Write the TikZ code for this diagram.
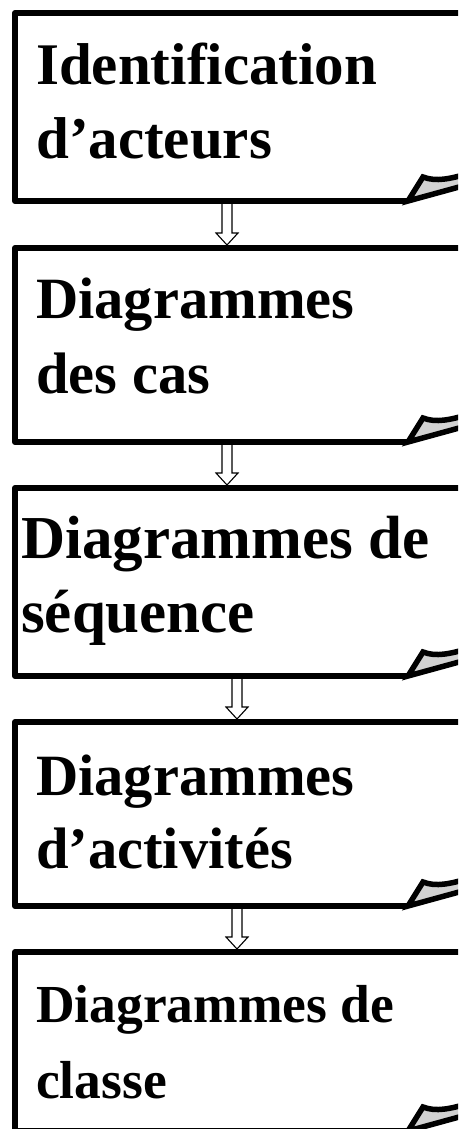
\documentclass[tikz,border=0pt]{standalone}
\usepackage{fontspec}
\setmainfont{Liberation Serif}
\usetikzlibrary{calc}
\begin{document}
\begin{tikzpicture}[x=1pt,y=-1pt,
  frame/.style={line width=6pt,line join=round,line cap=butt},
  flap/.style={line width=5.5pt,line join=miter,miter limit=3,fill=gray!35},
  label/.style={anchor=base west,inner sep=0pt,font=\bfseries},
  flow/.style={draw,line width=1.1pt,fill=white,line join=miter}]
\useasboundingbox (0,0) rectangle (458,1129);
\clip (0,0) rectangle (458,1129);

% a folded-corner card: #1 top, #2 bottom
\newcommand{\foldcard}[2]{%
  \draw[frame] (480,#1) -- (15,#1) -- (15,#2) -- (408,#2);
  \filldraw[flap] (470,#2-17) -- (408,#2) -- (423,#2-24)
     .. controls (436,#2-19) and (450,#2-22) .. (470,#2-28);
}
% a hollow block arrow from (#1) down to (#2)
\newcommand{\blockarrow}[2]{%
  \path[flow] let \p1=(#1), \p2=(#2) in
    (\x1-5,\y1) -- (\x1-5,\y2+12) -- (\x1-11,\y2+12) -- (\x2,\y2)
    -- (\x1+11,\y2+12) -- (\x1+5,\y2+12) -- (\x1+5,\y1) -- cycle;
}

% anchor points of the arrows
\coordinate (c1s) at (227,201);
\coordinate (c2n) at (227,245);
\coordinate (c2s) at (227,442);
\coordinate (c3n) at (227,485);
\coordinate (c3s) at (237,676);
\coordinate (c4n) at (237,719);
\coordinate (c4s) at (237,906);
\coordinate (c5n) at (237,949);

\blockarrow{c1s}{c2n}
\blockarrow{c2s}{c3n}
\blockarrow{c3s}{c4n}
\blockarrow{c4s}{c5n}

\foldcard{13}{201}
\foldcard{248}{442}
\foldcard{488}{676}
\foldcard{722}{906}
\foldcard{952}{1131}

% card texts
\node[label,font=\bfseries\fontsize{59}{70}\selectfont] (t1a) at (36,85) {Identification};
\node[label,font=\bfseries\fontsize{59}{70}\selectfont] (t1b) at (36,158) {d’acteurs};
\node[label,font=\bfseries\fontsize{58.5}{70}\selectfont] (t2a) at (36,318) {Diagrammes};
\node[label,font=\bfseries\fontsize{58.5}{70}\selectfont] (t2b) at (36,393) {des cas};
\node[label,font=\bfseries\fontsize{61}{70}\selectfont] (t3a) at (21,558) {Diagrammes de};
\node[label,font=\bfseries\fontsize{61}{70}\selectfont] (t3b) at (21,632) {séquence};
\node[label,font=\bfseries\fontsize{58.5}{70}\selectfont] (t4a) at (36,795) {Diagrammes};
\node[label,font=\bfseries\fontsize{58.5}{70}\selectfont] (t4b) at (36,868) {d’activités};
\node[label,font=\bfseries\fontsize{53.5}{70}\selectfont] (t5a) at (36,1022) {Diagrammes de};
\node[label,font=\bfseries\fontsize{53.5}{70}\selectfont] (t5b) at (36,1098) {classe};
\end{tikzpicture}
\end{document}
